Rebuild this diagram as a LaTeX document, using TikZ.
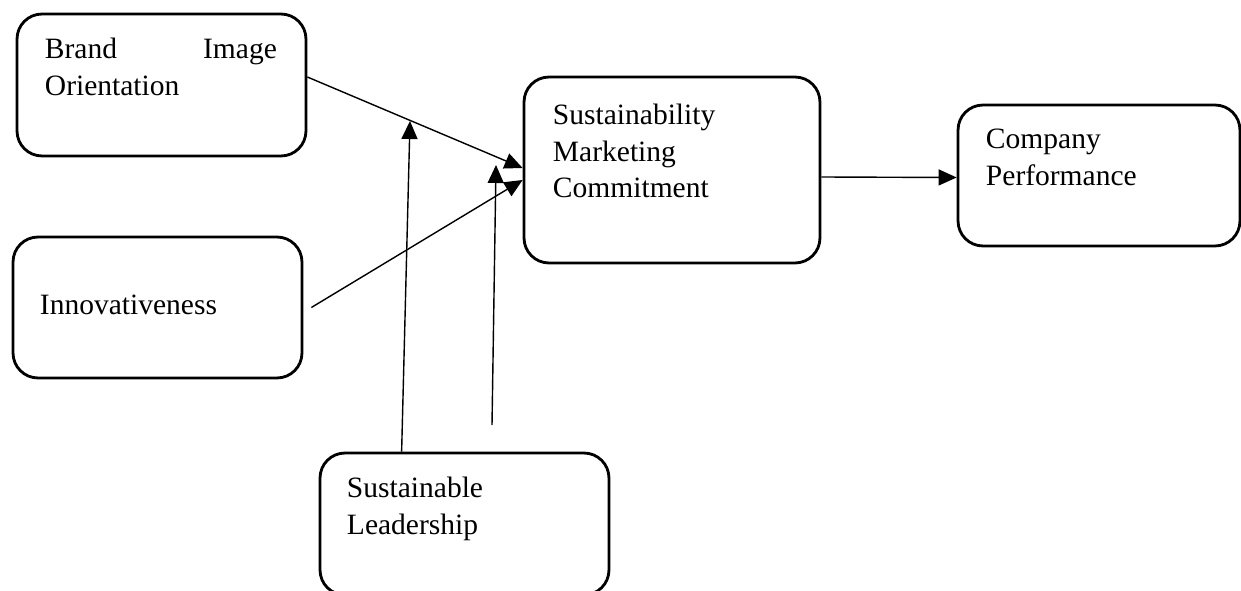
\documentclass[tikz,border=0pt]{standalone}
\usepackage{fontspec}
\setmainfont{Liberation Serif}
\usepackage{tikz}
\usetikzlibrary{positioning}
\usetikzlibrary{arrows.meta}
\usetikzlibrary{calc}

\begin{document}
\begin{tikzpicture}[x=0.02cm, y=-0.02cm]
	\path[use as bounding box, fill=white] (0,0) rectangle (1241,591);

	\begin{scope}[every node/.style={draw=black, line width=1.6pt, rounded corners=0.5cm, inner sep=0pt, minimum width=5.78cm, minimum height=2.84cm}]
	    \node (brand) at (161.5,85) {};
	    \node (innov) at (157.5,307.5) [minimum height=2.82cm] {};
	    \node (smc) at (672,170) [minimum width=5.92cm, minimum height=3.72cm] {};
	    \node (comp) at (1099,175.5) [minimum width=5.64cm, minimum height=2.82cm] {};
	    \node (lead) at (464.5,524) {};
	\end{scope}

	\begin{scope}[every node/.style={anchor=base west, inner sep=0pt, align=left, text width=5cm, font=\fontsize{16.8}{20.8}\selectfont}]
	    \node (brandtxt) [text width=4.64cm] at ($(brand.north west)+(29,46)$) {Brand\hfill Image\\Orientation};
	    \node (innovtxt) at ($(innov.north west)+(28,79)$) {Innovativeness};
	    \node (smctxt) at ($(smc.north west)+(30,49)$) {Sustainability\\Marketing\\Commitment};
	    \node (comptxt) at ($(comp.north west)+(29,45)$) {Company\\Performance};
	    \node (leadtxt) at ($(lead.north west)+(28,46)$) {Sustainable\\Leadership};
	\end{scope}

	% moderating lines
	\coordinate (mod1) at (410,121);
	\coordinate (mod2) at (496,165);
	\coordinate (mod2low) at (492,425);

	\begin{scope}[>={Triangle[length=0.36cm, width=0.32cm]},
	              every edge/.style={draw=black, line width=0.8pt}]
    	\path [->] ($(brand.east)+(0,-8)$) edge ($(smc.west)+(0,-2)$);
    	\path [->] ($(innov.east)+(8,0)$) edge ($(smc.west)+(0,10)$);
    	\path [->] ($(lead.north west)+(83,0)$) edge (mod1);
    	\path [->] (mod2low) edge (mod2);
    	\path [->] ($(smc.east)+(0,7)$) edge ($(comp.west)+(0,2)$);
	\end{scope}
\end{tikzpicture}
\end{document}
